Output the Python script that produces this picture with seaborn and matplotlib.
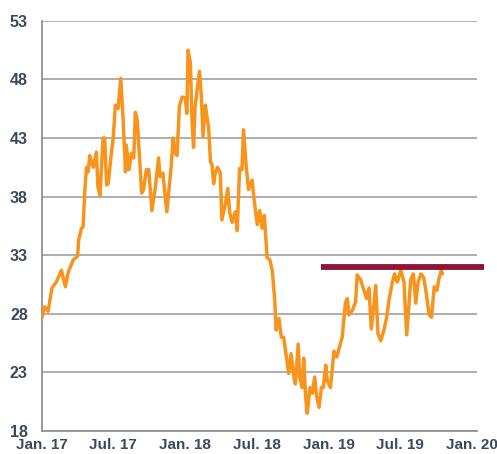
import pandas as pd
import seaborn as sns
import matplotlib.pyplot as plt

# ---------------------------------------------------------------- data
dates = [
    "2017-01-02", "2017-01-08", "2017-01-17", "2017-01-27", "2017-02-07", "2017-02-20",
    "2017-03-02", "2017-03-09", "2017-03-22", "2017-04-02", "2017-04-05", "2017-04-12",
    "2017-04-16", "2017-04-21", "2017-04-25", "2017-04-29", "2017-05-03", "2017-05-12",
    "2017-05-20", "2017-05-24", "2017-05-29", "2017-06-06", "2017-06-10", "2017-06-15",
    "2017-06-19", "2017-06-27", "2017-07-02", "2017-07-07", "2017-07-14", "2017-07-21",
    "2017-07-27", "2017-08-02", "2017-08-04", "2017-08-11", "2017-08-17", "2017-08-23",
    "2017-08-27", "2017-09-01", "2017-09-12", "2017-09-17", "2017-09-24", "2017-09-30",
    "2017-10-08", "2017-10-17", "2017-10-25", "2017-10-29", "2017-11-05", "2017-11-15",
    "2017-11-26", "2017-12-01", "2017-12-07", "2017-12-11", "2017-12-17", "2017-12-24",
    "2018-01-01", "2018-01-05", "2018-01-08", "2018-01-14", "2018-01-18", "2018-01-22",
    "2018-01-26", "2018-01-31", "2018-02-06", "2018-02-11", "2018-02-15", "2018-02-21",
    "2018-02-25", "2018-03-01", "2018-03-06", "2018-03-10", "2018-03-14", "2018-03-18",
    "2018-03-24", "2018-03-31", "2018-04-04", "2018-04-13", "2018-04-19", "2018-04-24",
    "2018-04-30", "2018-05-08", "2018-05-13", "2018-05-19", "2018-05-25", "2018-05-29",
    "2018-06-05", "2018-06-11", "2018-06-20", "2018-06-24", "2018-07-03", "2018-07-09",
    "2018-07-15", "2018-07-21", "2018-07-28", "2018-08-04", "2018-08-10", "2018-08-16",
    "2018-08-20", "2018-08-27", "2018-09-02", "2018-09-08", "2018-09-15", "2018-09-21",
    "2018-09-27", "2018-10-04", "2018-10-08", "2018-10-15", "2018-10-19", "2018-10-25",
    "2018-10-29", "2018-11-03", "2018-11-07", "2018-11-14", "2018-11-20", "2018-11-26",
    "2018-12-01", "2018-12-07", "2018-12-13", "2018-12-18", "2018-12-24", "2018-12-28",
    "2019-01-05", "2019-01-14", "2019-01-21", "2019-01-26", "2019-02-04", "2019-02-12",
    "2019-02-17", "2019-02-21", "2019-03-02", "2019-03-10", "2019-03-14", "2019-03-23",
    "2019-03-31", "2019-04-07", "2019-04-13", "2019-04-19", "2019-04-26", "2019-04-30",
    "2019-05-06", "2019-05-13", "2019-05-21", "2019-05-28", "2019-06-03", "2019-06-11",
    "2019-06-17", "2019-06-24", "2019-07-03", "2019-07-11", "2019-07-18", "2019-07-24",
    "2019-07-28", "2019-08-04", "2019-08-10", "2019-08-16", "2019-08-23", "2019-08-30",
    "2019-09-05", "2019-09-13", "2019-09-19", "2019-09-26", "2019-10-03", "2019-10-08",
    "2019-10-14", "2019-10-17",
]
values = [
    27.7, 28.6, 28.2, 30.2, 30.7, 31.7,
    30.3, 31.5, 32.6, 32.9, 34.3, 35.3,
    35.4, 38.8, 40.5, 40.1, 41.5, 40.5,
    41.8, 38.8, 38.1, 43.0, 43.0, 39.0,
    39.1, 41.7, 43.1, 45.8, 45.5, 48.1,
    44.5, 40.1, 42.4, 40.3, 41.7, 41.3,
    45.2, 44.5, 38.3, 38.6, 40.3, 40.3,
    36.8, 38.8, 41.3, 39.7, 40.0, 36.7,
    40.5, 43.0, 41.7, 41.5, 45.7, 46.5,
    46.4, 45.1, 50.5, 49.4, 44.5, 42.2,
    45.7, 47.1, 48.7, 46.5, 43.1, 45.8,
    44.8, 44.0, 41.0, 40.7, 39.1, 40.0,
    40.5, 40.0, 36.0, 37.4, 38.7, 36.6,
    35.8, 36.7, 35.1, 40.4, 40.3, 43.7,
    40.5, 38.6, 39.4, 38.0, 35.6, 36.8,
    35.3, 36.4, 32.8, 32.6, 31.7, 29.4,
    26.6, 27.6, 26.0, 26.0, 24.3, 22.9,
    24.6, 22.6, 22.0, 25.4, 22.6, 21.7,
    24.2, 20.9, 19.5, 21.7, 21.2, 22.6,
    20.9, 20.0, 21.7, 21.7, 23.6, 22.3,
    21.7, 24.8, 24.3, 24.9, 26.0, 28.9,
    29.3, 27.9, 28.3, 29.0, 31.3, 30.9,
    30.0, 29.3, 30.2, 26.7, 28.9, 30.4,
    26.3, 25.7, 26.6, 27.7, 29.2, 30.6,
    31.4, 30.7, 31.7, 30.7, 26.2, 28.9,
    30.9, 31.4, 28.9, 30.7, 31.4, 31.1,
    29.9, 27.9, 27.7, 30.3, 30.0, 31.0,
    31.7, 31.4,
]

level_dates = ["2018-12-13", "2020-01-31"]
level_values = [32.0, 32.0]

y_ticks = [18, 23, 28, 33, 38, 43, 48, 53]
x_ticks = ["2017-01-01", "2017-07-01", "2018-01-01", "2018-07-01",
           "2019-01-01", "2019-07-01", "2020-01-01"]
x_labels = ["Jan. 17", "Jul. 17", "Jan. 18", "Jul. 18", "Jan. 19", "Jul. 19", "Jan. 20"]

ORANGE = "#f7941d"
CRIMSON = "#8c1538"
LABEL = "#3b4a5a"
GRID = "#a8a8a8"

# ---------------------------------------------------------------- plot
sns.set_style("white")
plt.rcParams["font.family"] = ["Liberation Sans", "DejaVu Sans"]

df = pd.DataFrame({"date": pd.to_datetime(dates), "value": values})
lvl = pd.DataFrame({"date": pd.to_datetime(level_dates), "value": level_values})

fig = plt.figure(figsize=(4.97, 4.54), dpi=100)
ax = fig.add_axes([0.084, 0.051, 0.876, 0.903])

for t in y_ticks:
    ax.axhline(t, color=GRID, lw=1.3, zorder=0)

sns.lineplot(data=df, x="date", y="value", ax=ax, color=ORANGE, lw=2.5, zorder=3)
sns.lineplot(data=lvl, x="date", y="value", ax=ax, color=CRIMSON, lw=4.2,
             zorder=4, clip_on=False, solid_capstyle="butt")

ax.set_ylim(18, 53)
ax.set_xlim(pd.Timestamp("2017-01-01"), pd.Timestamp("2020-01-13"))
ax.set_yticks(y_ticks)
ax.set_xticks(pd.to_datetime(x_ticks))
ax.set_xticklabels(x_labels)
ax.set_xlabel("")
ax.set_ylabel("")

for side in ("top", "right"):
    ax.spines[side].set_visible(False)
for side in ("left", "bottom"):
    ax.spines[side].set_color("#8a8a8a")
    ax.spines[side].set_linewidth(1.2)

ax.tick_params(axis="both", colors="#8a8a8a", length=4, width=1.2,
               labelcolor=LABEL, labelsize=11.5)
ax.tick_params(axis="y", pad=6)
# keep the date labels inside the canvas
ax.tick_params(axis="x", pad=1, labelsize=11)
for lab in ax.get_xticklabels() + ax.get_yticklabels():
    lab.set_fontweight("bold")

fig.savefig("out.png", dpi=100)
